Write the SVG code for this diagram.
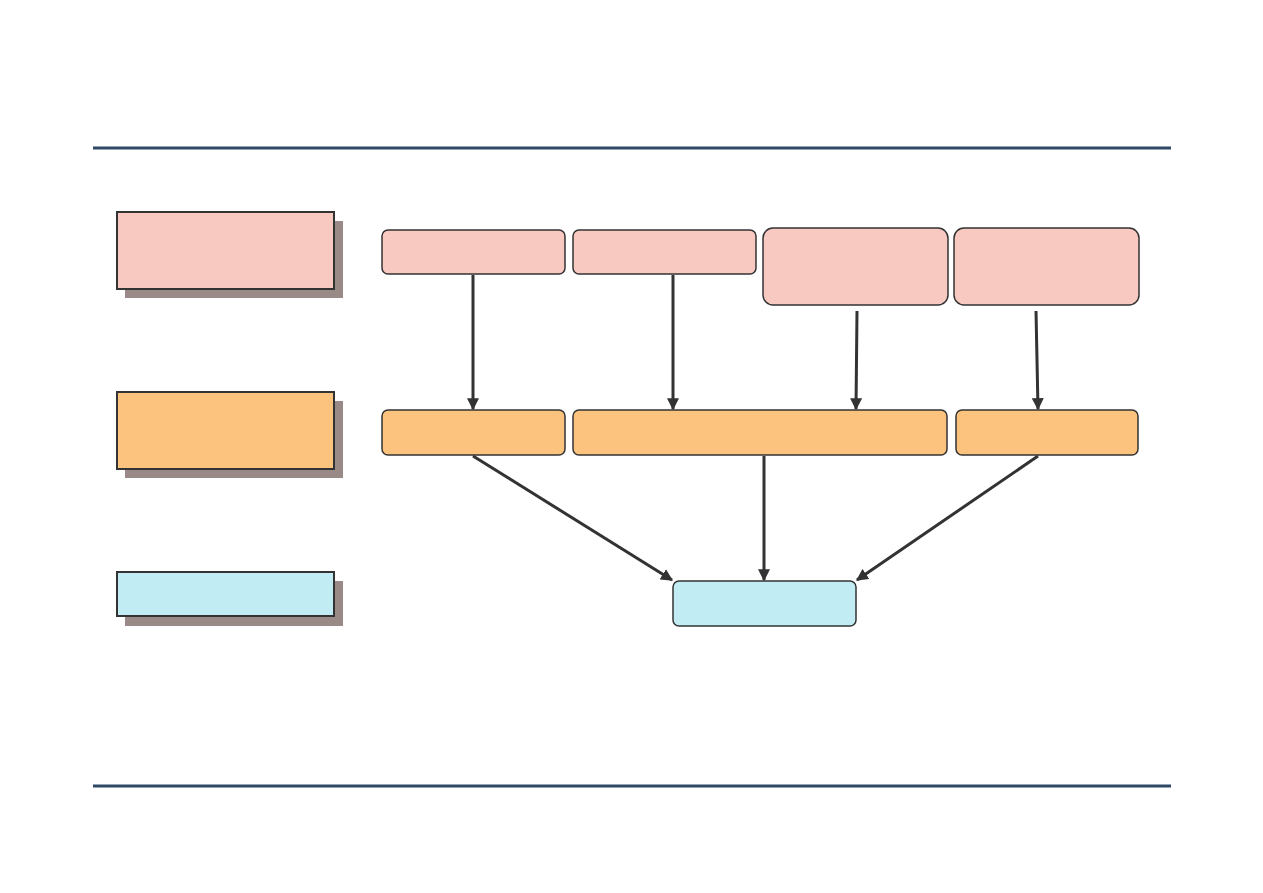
<svg xmlns="http://www.w3.org/2000/svg" width="1263" height="893" viewBox="0 0 1263 893">
<defs>
<style>
.rule{stroke:#2e4866;stroke-width:3}
.shadow{fill:#998a87}
.leg{stroke:#333;stroke-width:2}
.node{stroke:#333;stroke-width:1.5}
.pink{fill:#f8c9c0}
.orange{fill:#fbc37e}
.blue{fill:#c2ecf4}
.edge{stroke:#333;stroke-width:3;fill:none;marker-end:url(#arr)}
</style>
<marker id="arr" viewBox="0 0 10 10" refX="9" refY="5" markerWidth="4" markerHeight="4" orient="auto" markerUnits="strokeWidth">
<path d="M0,0 L10,5 L0,10 z" fill="#333"/>
</marker>
</defs>
<rect width="1263" height="893" fill="#fff"/>
<line class="rule" x1="93" y1="148" x2="1171" y2="148"/>
<line class="rule" x1="93" y1="786" x2="1171" y2="786"/>
<g id="legend1"><rect class="shadow" x="125" y="221" width="218" height="77"/><rect class="leg pink" x="117" y="212" width="217" height="77"/></g>
<g id="legend2"><rect class="shadow" x="125" y="401" width="218" height="77"/><rect class="leg orange" x="117" y="392" width="217" height="77"/></g>
<g id="legend3"><rect class="shadow" x="125" y="581" width="218" height="45"/><rect class="leg blue" x="117" y="572" width="217" height="44"/></g>
<g id="t1"><rect class="node pink" x="382" y="230" width="183" height="44" rx="6"/></g>
<g id="t2"><rect class="node pink" x="573" y="230" width="183" height="44" rx="6"/></g>
<g id="t3"><rect class="node pink" x="763" y="228" width="185" height="77" rx="10"/></g>
<g id="t4"><rect class="node pink" x="954" y="228" width="185" height="77" rx="10"/></g>
<g id="m1"><rect class="node orange" x="382" y="410" width="183" height="45" rx="6"/></g>
<g id="m2"><rect class="node orange" x="573" y="410" width="374" height="45" rx="6"/></g>
<g id="m3"><rect class="node orange" x="956" y="410" width="182" height="45" rx="6"/></g>
<g id="b1"><rect class="node blue" x="673" y="581" width="183" height="45" rx="6"/></g>
<g id="connectors">
<line class="edge" x1="473" y1="275" x2="473" y2="409"/>
<line class="edge" x1="673" y1="275" x2="673" y2="409"/>
<line class="edge" x1="857" y1="311" x2="856" y2="409"/>
<line class="edge" x1="1036" y1="311" x2="1038" y2="409"/>
<line class="edge" x1="473" y1="456" x2="672" y2="580"/>
<line class="edge" x1="764" y1="456" x2="764" y2="580"/>
<line class="edge" x1="1038" y1="456" x2="857" y2="580"/>
</g>
</svg>
